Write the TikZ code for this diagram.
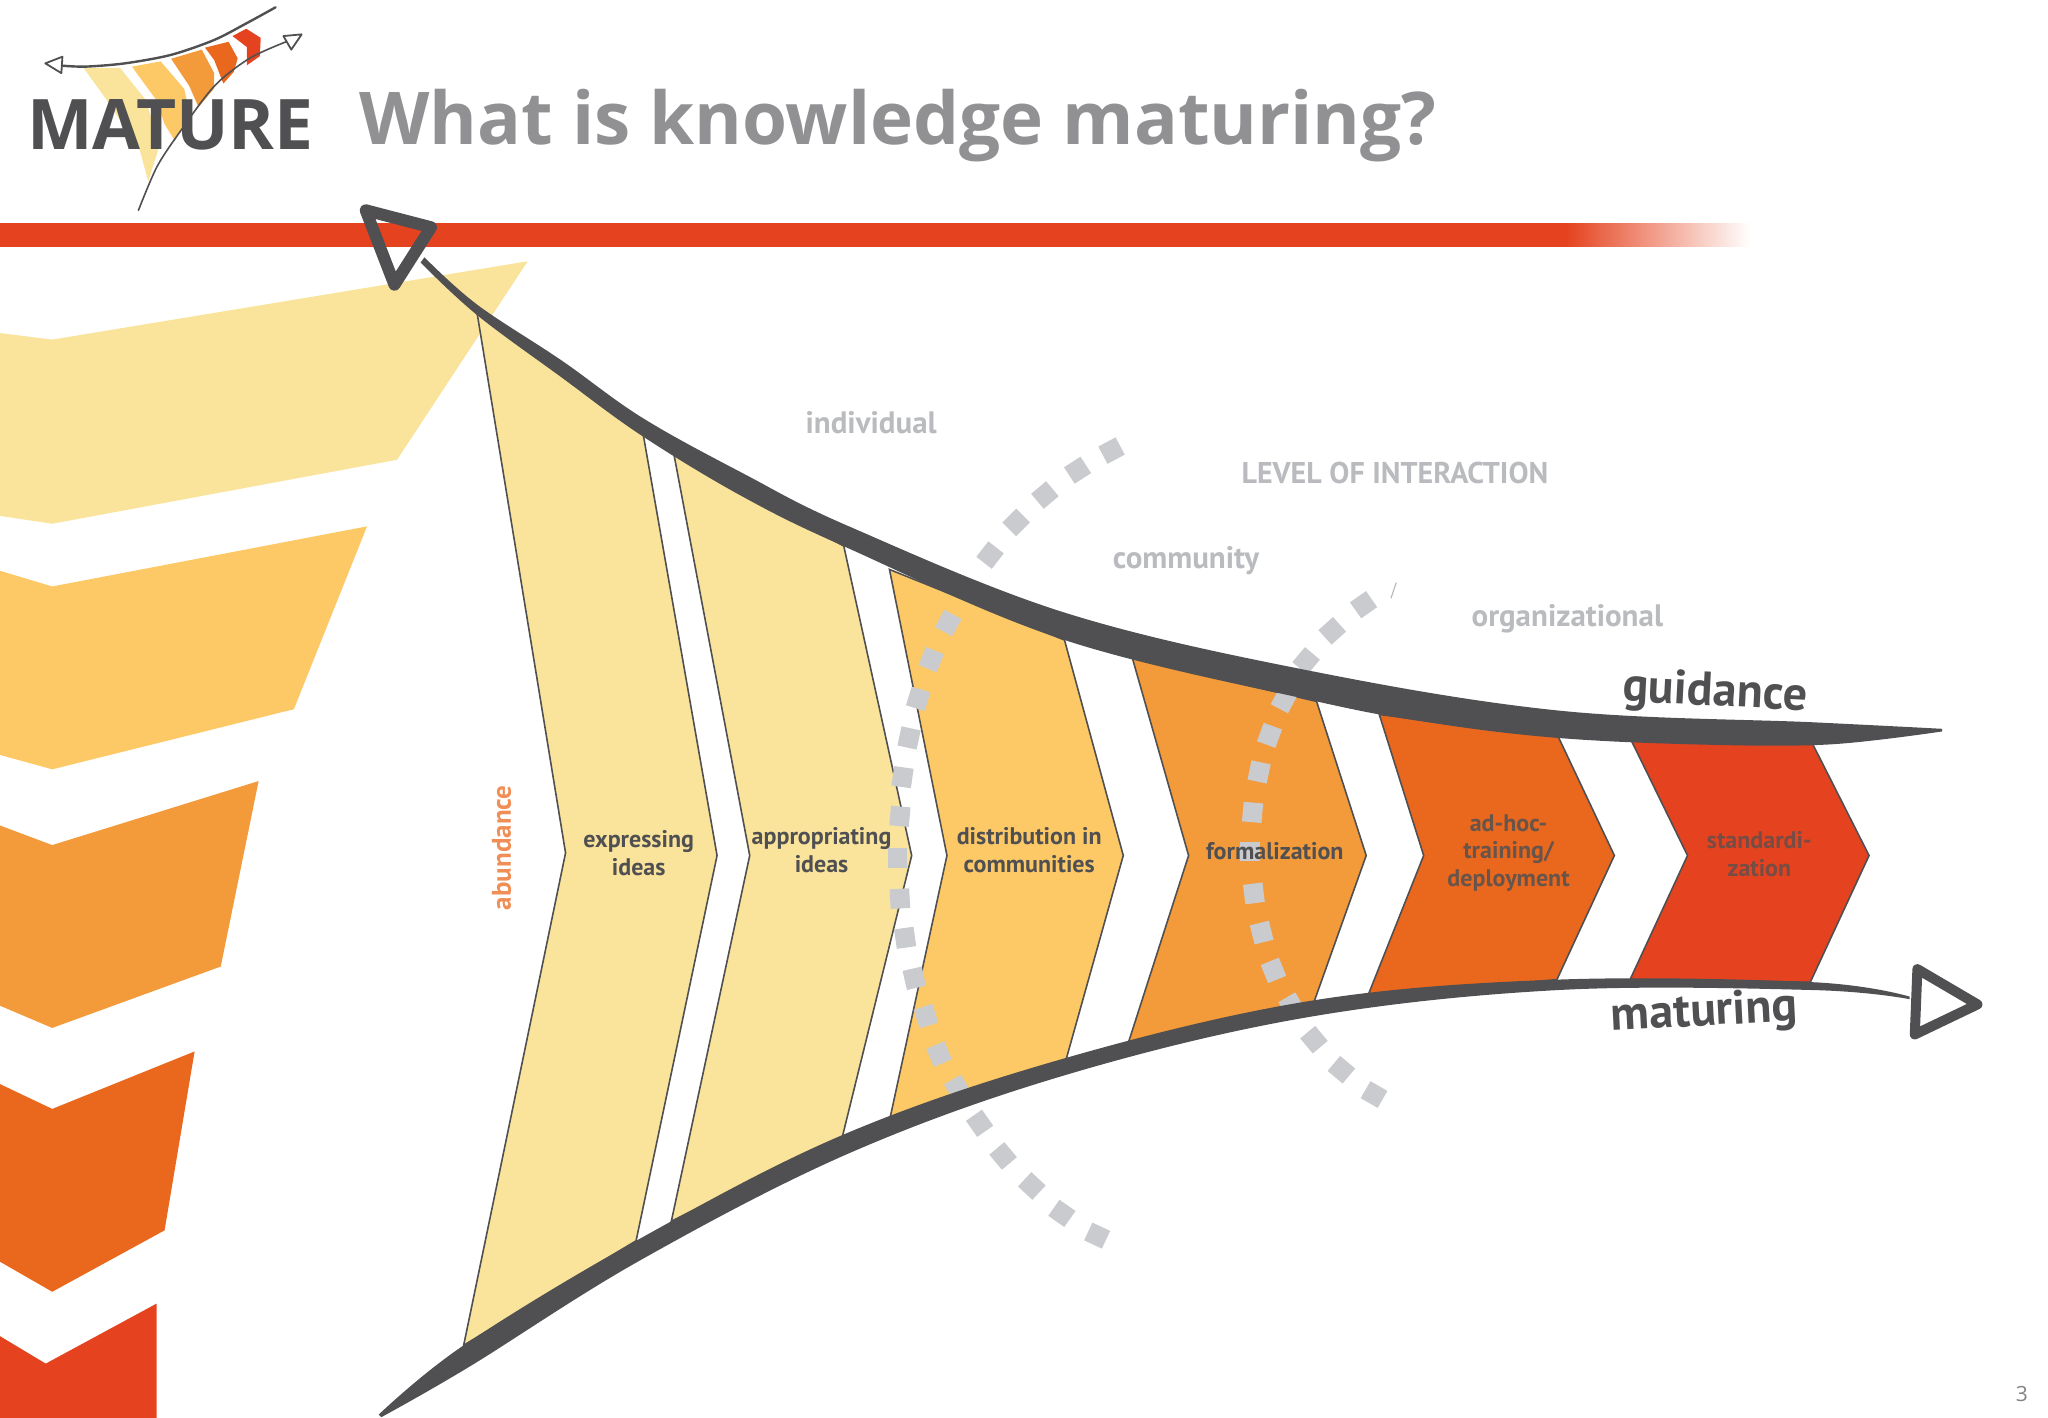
\documentclass[tikz,border=0pt]{standalone}
\usepackage{fontspec}
\setmainfont{Open Sans}
\newfontfamily\labfont{PT Sans}
\definecolor{cA}{HTML}{FAE49B}
\definecolor{cB}{HTML}{FDC966}
\definecolor{cC}{HTML}{F39A3A}
\definecolor{cD}{HTML}{EA681E}
\definecolor{cE}{HTML}{E5431F}
\definecolor{ink}{HTML}{505052}
\definecolor{dotg}{HTML}{C9CBCE}
\definecolor{titleg}{HTML}{919194}
\definecolor{faint}{HTML}{B9BBBE}
\tikzset{
  chev/.style={draw=ink,line width=1.6pt,line join=miter},
  band/.style={fill=ink},
  head/.style={draw=ink,line join=round},
  sq/.style={fill=dotg},
  lab/.style={font=\labfont\bfseries\fontsize{24}{27.5}\selectfont,text=ink,align=center,inner sep=0pt},
  lev/.style={font=\labfont\bfseries\fontsize{31}{34}\selectfont,text=faint,inner sep=0pt},
  big/.style={font=\labfont\bfseries\fontsize{48}{52}\selectfont,text=ink,inner sep=0pt},
  thin/.style={draw=ink,line width=1.6pt,line cap=round}
}
\begin{document}
\begin{tikzpicture}[x=1.30612pt,y=-1.30612pt]
\useasboundingbox (0,0) rectangle (1568,1085.65);
% red bar
\fill[cE] (0,171) rectangle (1200,189);
\shade[left color=cE,right color=white,draw=none] (1199,171) rectangle (1340,189);
% left big chevrons
\fill[cA] (0,255)--(40,260)--(404,200)--(304,352)--(40,401)--(0,395)--cycle;
\fill[cB] (0,437)--(40,449)--(281,403)--(225,543)--(40,589)--(0,578)--cycle;
\fill[cC] (0,632)--(40,647)--(198,598)--(169,740)--(40,787)--(0,770)--cycle;
\fill[cD] (0,830)--(40,849)--(149,805)--(126,942)--(40,989)--(0,966)--cycle;
\fill[cE] (0,1023)--(35,1044)--(120,998)--(120,1085.65)--(0,1085.65)--cycle;
% central chevrons
\path[chev,fill=cA] (365,238)--(492,330)--(549,655)--(487,950)--(355,1030)--(433,653)--cycle;
\path[chev,fill=cA] (516,348)--(646,418)--(698,655)--(645,870)--(514,935)--(574,655)--cycle;
\path[chev,fill=cB] (681,436)--(815,490)--(860,655)--(816,812)--(681,858)--(725,655)--cycle;
\path[chev,fill=cC] (867,504)--(1008,537)--(1046,655)--(1005,770)--(864,798)--(910,655)--cycle;
\path[chev,fill=cD] (1056,547)--(1193,564)--(1236,655)--(1192,750)--(1047,763)--(1090,655)--cycle;
\path[chev,fill=cE] (1248,565)--(1388,570)--(1431,655)--(1386,752)--(1248,750)--(1292,655)--cycle;
% level arcs
\foreach \x/\y/\a in {851/345/28,825/360/33,800/379/40,778/400/45,758/425/52,726/477/62,713/505/68,703/535/73,696/565/78,691/595/82,689/625/85,687/657/90,689/688/93,693/718/98,700/749/103,709/778/108,719/807/113,733/833/120,750/860/125,768/885/130,790/908/137,813/929/145,840/946/155,
1044/463/35,1020/483/42,1000/506/50,983/536/62,972/563/70,964/591/78,959/622/85,957/652/90,960/684/97,966/714/104,975/743/112,989/770/120,1006/796/130,1027/819/140,1052/838/150}
  \fill[sq,shift={(\x,\y)},rotate=\a] (-7.5,-7.5) rectangle (7.5,7.5);
\draw[faint,line width=1.2pt] (1065,458)--(1069,446);
% guidance band
\fill[band] plot[smooth,tension=0.6] coordinates {(325,197)(365,233)(430,276)(492,320)(570,363)(650,403)(815,469)(1000,513)(1193,544)(1388,553)(1487,558)}
  -- plot[smooth,tension=0.6] coordinates {(1487,560)(1400,570)(1300,570)(1193,565)(1100,554)(1008,537)(815,490)(650,420)(570,381)(492,334)(430,289)(365,241)(322,201)} -- cycle;
% maturing band
\fill[band] plot[smooth,tension=0.6] coordinates {(290,1083)(355,1030)(487,950)(645,869)(816,810)(1005,766)(1193,750)(1388,752)(1462,763)}
  -- plot[smooth,tension=0.6] coordinates {(1462,765)(1388,758)(1193,758)(1000,779)(816,823)(650,883)(490,965)(360,1046)(292,1085)} -- cycle;
% arrowheads
\path[head,line width=12pt] (280,161)--(330,174)--(302,218)--cycle;
\path[head,line width=10pt] (1468,742)--(1514,769)--(1466,792)--cycle;
% labels
\node[lab] (t1) at (489,653) {expressing\\ideas};
\node[lab] (t2) at (629,651) {appropriating\\ideas};
\node[lab] (t3) at (788,651) {distribution in\\communities};
\node[lab] (t4) at (976,652) {formalization};
\node[lab,text=ink!85!cD] (t5) at (1155,653) {ad-hoc-\\training/\\deployment};
\node[lab,text=ink!75!cE] (t6) at (1347,654) {standardi-\\zation};
\node[font=\labfont\bfseries\fontsize{27}{30}\selectfont,text=cD!75!white,rotate=90,inner sep=0pt] (t7) at (384,649) {abundance};
\node[lev] (l1) at (667,324) {individual};
\node[lev] (l2) at (908,429) {community};
\node[lev] (l3) at (1200,474) {organizational};
\node[lev,font=\labfont\bfseries\fontsize{30}{34}\selectfont] (l4) at (1068,362) {LEVEL OF INTERACTION};
\node[big,rotate=-3] (g) at (1313,531) {guidance};
\node[big,rotate=3] (m) at (1305,776) {maturing};
% logo
\fill[cA] (64,52)--(92,52)--(112,77)--(122,112)--(113.5,139)--(107,115)--(82,77)--cycle;
\fill[cB] (101,51)--(123,47)--(141,68)--(145,85)--(134,108)--(126,95)--(120,77)--cycle;
\fill[cC] (131,45)--(154.5,38)--(164,56)--(164,67.6)--(152,82)--(145,66)--cycle;
\fill[cD] (157,36.5)--(175,32)--(182,44.7)--(179,55)--(171,64)--(164,46)--cycle;
\fill[cE] (178,27.6)--(188.6,22)--(199.6,29)--(199,43)--(189,50)--(189,36)--cycle;
\node[inner sep=0pt,text=ink] (logo) at (130.5,95.5) {\resizebox{286pt}{50pt}{\bfseries MATURE}};
\draw[thin,line width=2.4pt] plot[smooth] coordinates {(47.8,50.3)(65.6,51)(95.7,48.5)(131,42)(164,30.6)(188.6,17.9)(211,5.6)};
\draw[thin] plot[smooth] coordinates {(106,161)(120,128)(137,102)(164,66)(191,44.7)(219,32)};
\path[draw=ink,line width=1.8pt,line join=round] (34.7,48.5)--(47.8,43.4)--(47,56)--cycle;
\path[draw=ink,line width=1.8pt,line join=round] (217,27.6)--(231,26.3)--(223,38)--cycle;
% title
\node[anchor=west,inner sep=0pt,text=titleg,font=\bfseries\fontsize{72.8}{80}\selectfont] (title) at (275,96) {What is knowledge maturing?};
\node[text=faint!70!black,inner sep=0pt,font=\fontsize{21}{24}\selectfont] (page) at (1548,1067) {3};
\end{tikzpicture}
\end{document}
